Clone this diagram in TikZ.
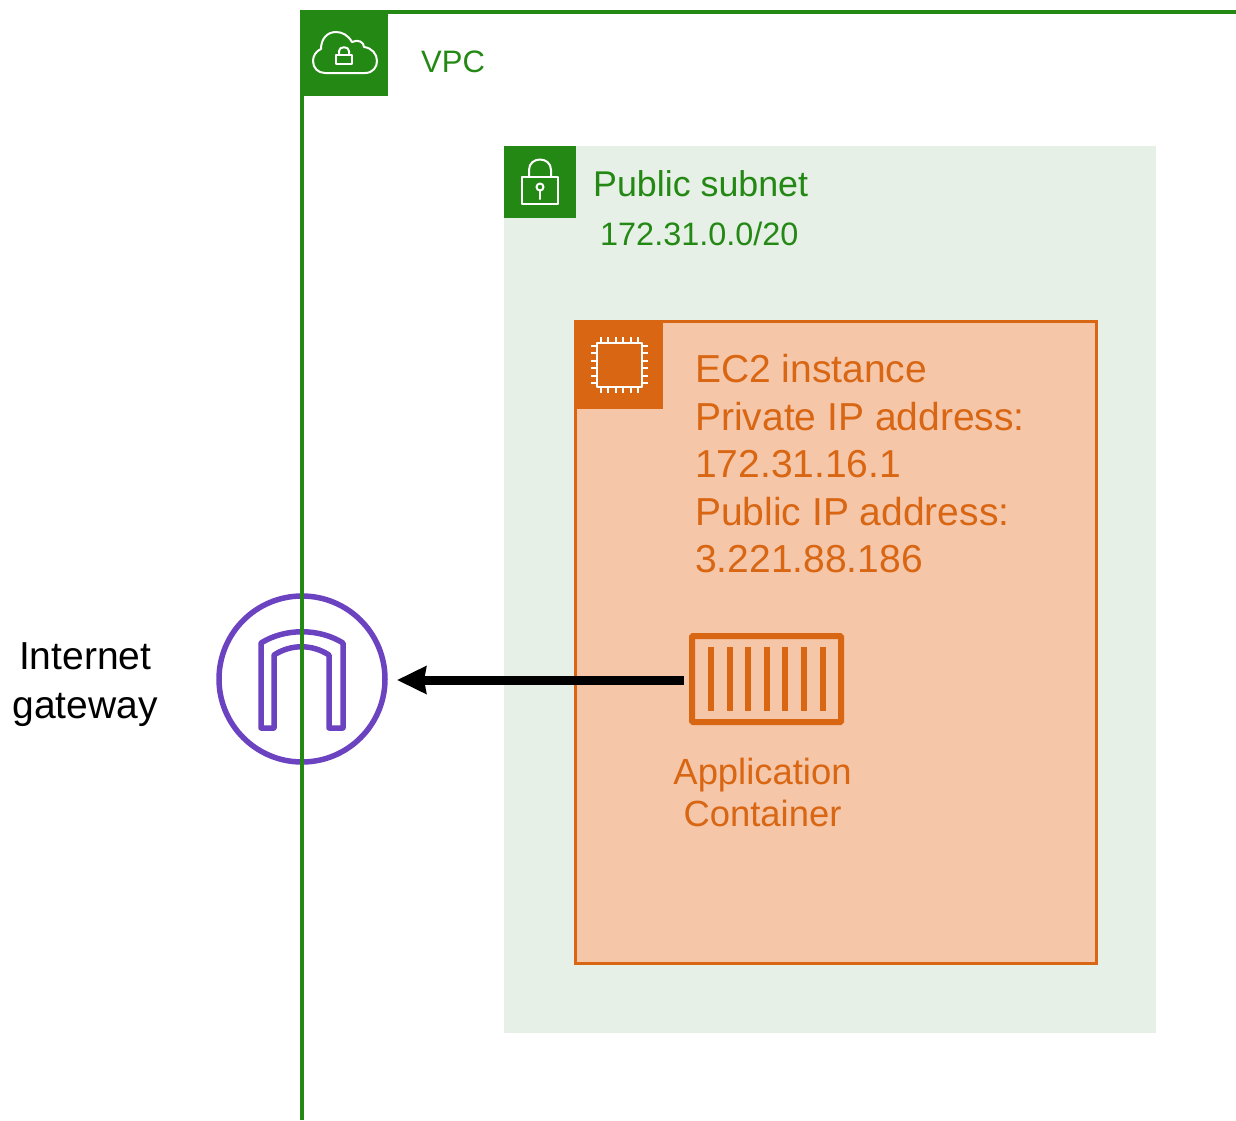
\documentclass[tikz,border=0pt]{standalone}
\usepackage{fontspec}
\setmainfont{Liberation Sans}
\usetikzlibrary{arrows.meta,positioning}

\definecolor{vpcgreen}{HTML}{248814}
\definecolor{subnetfill}{HTML}{E6F0E6}
\definecolor{ec2orange}{HTML}{D86613}
\definecolor{ec2fill}{HTML}{F5C6A8}
\definecolor{igwpurple}{HTML}{6B42C0}

\tikzset{
  tabbox/.style={rectangle,inner sep=0pt,outer sep=0pt,anchor=north west},
  greenlabel/.style={text=vpcgreen,inner sep=0pt,anchor=base west},
  orangelabel/.style={text=ec2orange,inner sep=0pt},
  iconline/.style={white,line width=2pt,line join=round,line cap=round}
}

\begin{document}
\begin{tikzpicture}[x=1pt,y=-1pt]

  \useasboundingbox (0,0) rectangle (1236,1120);

  \node[rectangle,fill=subnetfill,minimum width=652pt,minimum height=887pt,
        inner sep=0pt,outer sep=0pt,anchor=north west] (subnet) at (504,146) {};
  \node[rectangle,draw=ec2orange,fill=ec2fill,line width=3pt,minimum width=521pt,
        minimum height=642pt,inner sep=0pt,outer sep=0pt,anchor=north west] (ec2) at (575.5,321.5) {};

  \node[tabbox,fill=vpcgreen,minimum width=88pt,minimum height=86pt] (vpctab) at (300,10) {};
  \node[tabbox,fill=vpcgreen,minimum width=72pt,minimum height=72pt] (subnettab) at (subnet.north west) {};
  \node[tabbox,fill=ec2orange,minimum width=87pt,minimum height=87pt] (ec2tab) at (ec2.north west) {};

  % cloud
  \draw[iconline] (325,73) -- (365,73)
    .. controls (373,73) and (377,67) .. (377,61)
    .. controls (377,54) and (372,48) .. (364,47)
    .. controls (364,42) and (358,39) .. (352,42)
    .. controls (348,35) and (342,32) .. (336,32)
    .. controls (327,32) and (321,39) .. (321,49)
    .. controls (316,51) and (313,56) .. (313,61)
    .. controls (313,68) and (318,73) .. (325,73);
  \draw[iconline] (336,55) rectangle (352,64);
  \draw[iconline] (339,55) -- (339,51) .. controls (339,46) and (349,46) .. (349,51) -- (349,55);

  % padlock
  \draw[iconline] (522,177) rectangle (558,204);
  \draw[iconline] (529,177) -- (529,170) .. controls (529,156) and (551,156) .. (551,170) -- (551,177);
  \draw[iconline] (540,187) circle (3.5pt);
  \draw[iconline] (540,191) -- (540,199);

  % chip
  \draw[iconline] (597,343) rectangle (642,387);
  \foreach \i in {0,...,5} {
    \draw[iconline,line cap=butt] (601+\i*7.4,343) -- (601+\i*7.4,337);
    \draw[iconline,line cap=butt] (601+\i*7.4,387) -- (601+\i*7.4,393);
    \draw[iconline,line cap=butt] (597,346+\i*7.4) -- (591,346+\i*7.4);
    \draw[iconline,line cap=butt] (642,346+\i*7.4) -- (648,346+\i*7.4);
  }

  \node[greenlabel,font=\fontsize{31}{36}\selectfont] (vpclabel) at (421,72) {VPC};
  \node[greenlabel,font=\fontsize{35.8}{40}\selectfont] (subnetname) at (593,196) {Public subnet};
  \node[greenlabel,font=\fontsize{32.4}{38}\selectfont] (subnetcidr) at (600,245.5) {172.31.0.0/20};

  \node[orangelabel,align=left,anchor=north west,font=\fontsize{39}{47.6}\selectfont] (ec2label) at (695,354)
    {EC2 instance\\Private IP address:\\172.31.16.1\\Public IP address:\\3.221.88.186};

  % container
  \node[rectangle,draw=ec2orange,line width=6pt,rounded corners=1pt,minimum width=149pt,
        minimum height=86pt,inner sep=0pt,outer sep=0pt] (container) at (766.5,679) {};
  \foreach \x in {711,730,748,767,785,804,823}
    \draw[ec2orange,line width=6pt] (\x,647) -- (\x,711);
  \node[orangelabel,align=center,font=\fontsize{36.4}{42}\selectfont,below=36pt of container,xshift=-4pt] (containerlabel)
    {Application\\Container};

  % gateway
  \node[circle,draw=igwpurple,line width=5.5pt,minimum size=166pt,inner sep=0pt,outer sep=0pt] (igw) at (302,679) {};
  \draw[igwpurple,line width=5.5pt,line join=round] (261,728) -- (261,643)
    .. controls (285,628) and (319,628) .. (343,643) -- (343,728) -- (329,728) -- (329,655)
    .. controls (312,644) and (291,644) .. (274,655) -- (274,728) -- cycle;
  \node[inner sep=0pt,align=center,font=\fontsize{39}{49}\selectfont,left=61pt of igw,yshift=-6pt] (igwlabel)
    {Internet\\gateway};

  % vpc border
  \draw[vpcgreen,line width=3.5pt] (1236,12) -- (302,12) -- (302,1120);

  \draw[-{Stealth[length=29pt,width=27pt,inset=2pt]},line width=9pt,shorten <=8pt,shorten >=12pt]
    ([yshift=-1pt]container.west) -- ([yshift=-1pt]igw.east);

\end{tikzpicture}
\end{document}
